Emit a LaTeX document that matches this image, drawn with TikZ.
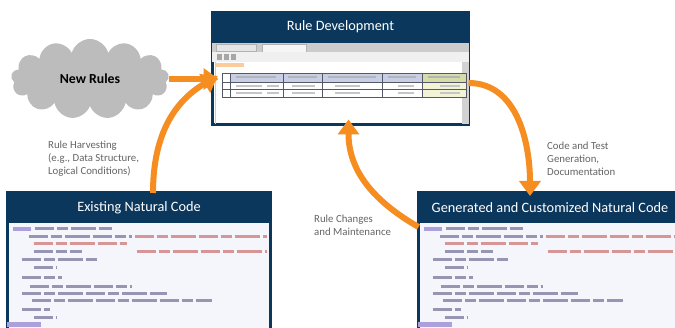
\documentclass[tikz,border=0pt]{standalone}
\usepackage{fontspec}
\setmainfont{Carlito}
\usepackage{xcolor}
\usepackage{tikz}
\usetikzlibrary{shapes,arrows.meta,positioning}

\definecolor{panelblue}{RGB}{12,55,92}
\definecolor{flowor}{RGB}{245,141,32}
\definecolor{notegray}{RGB}{100,100,100}
\definecolor{cloudgray}{RGB}{188,188,188}
\definecolor{codebg}{RGB}{245,246,251}
\definecolor{codeink}{RGB}{150,150,178}
\definecolor{commentink}{RGB}{214,150,150}
\definecolor{keyink}{RGB}{172,160,220}
\definecolor{headfill}{RGB}{200,207,228}
\definecolor{greenhead}{RGB}{214,220,166}
\definecolor{yellowcell}{RGB}{243,244,214}
\definecolor{gridink}{RGB}{85,88,105}

\begin{document}
\begin{tikzpicture}[
  x=1pt, y=1pt,
  title/.style={
    rectangle,
    fill=panelblue,
    draw=panelblue,
    line width=3pt,
    text=white,
    font=\fontsize{14.3}{16}\selectfont,
    minimum height=29pt,
    inner sep=0pt,
    outer sep=0pt
  },
  screen/.style={
    rectangle,
    draw=panelblue,
    line width=3pt,
    fill=white,
    inner sep=0pt,
    outer sep=0pt
  },
  flow/.style={
    draw=flowor,
    line width=6pt,
    -{Triangle[width=21pt,length=15pt]}
  },
  note/.style={
    text=notegray,
    font=\fontsize{10.8}{13}\selectfont,
    align=left,
    inner sep=0pt
  },
  codeline/.style={codeink, line width=3pt, dash pattern=on 19pt off 3pt on 11pt off 3pt on 25pt off 3pt},
  cellline/.style={gridink, line width=0.8pt}
]
\clip (0,0) rectangle (675,327);

% --- NEW RULES (Left Side) ---
\node[cloud, cloud puffs=13, aspect=2, fill=cloudgray, minimum width=158pt, minimum height=80pt,
      font=\fontsize{13.8}{16}\selectfont\bfseries] (new_rules) at (90,248) {New Rules};

% --- RULE DEVELOPMENT (Top) ---
\node[title, minimum width=256pt] (rdev_title) at (340.5,300) {Rule Development};
\node[screen, minimum width=256pt, minimum height=83pt, below=0pt of rdev_title] (rdev_body) {};

% window chrome
\fill[gray!40] (212,283.5) rectangle (468.5,275);
\fill[gray!20, draw=gray!60] (216,283) rectangle (256,276);
\fill[gray!8, draw=gray!60] (262,283) rectangle (306,275);
\fill[gray!12] (212,275) rectangle (468.5,265);
\foreach \ix in {217,224,231}
  \fill[gray!70] (\ix,267) rectangle ++(5,6);
\fill[flowor!45] (216,264) rectangle (244,259.5);
\fill[gray!35] (462,265) rectangle (468.5,202.5);
\draw[gray!40, line width=1pt] (215,265) -- (215,202.5);

% table
\foreach \xa/\xb in {230/283, 283/322, 322/382, 382/422}
  \fill[headfill] (\xa,254) rectangle (\xb,245);
\fill[greenhead] (422,254) rectangle (466,245);
\fill[yellowcell] (422,245) rectangle (466,230);
\foreach \xa/\xb in {236/276, 288/317, 328/376, 388/416, 428/460}
  \draw[gridink!45, line width=2pt] (\xa,249.5) -- (\xb,249.5);
\foreach \xa/\xb in {236/262, 267/279, 292/315, 335/360, 398/414, 440/460}
  \draw[gray!45, line width=1.6pt] (\xa,241.2) -- (\xb,241.2)
                                   (\xa,233.8) -- (\xb,233.8);
\draw[cellline] (222,230) rectangle (466,254);
\foreach \xc in {230,283,322,382,422}
  \draw[cellline] (\xc,230) -- (\xc,254);
\foreach \yc in {245,237.5}
  \draw[cellline] (222,\yc) -- (466,\yc);

% --- EXISTING NATURAL CODE (Bottom Left) ---
\node[title, minimum width=263pt] (exist_title) at (139,119.5) {Existing Natural Code};
\node[screen, fill=codebg, minimum width=263pt, minimum height=130pt, below=0pt of exist_title] (exist_body) {};

% --- GENERATED CODE (Bottom Right) ---
\node[title, minimum width=263pt] (gen_title) at (550,119.5) {Generated and Customized Natural Code};
\node[screen, fill=codebg, minimum width=263pt, minimum height=130pt, below=0pt of gen_title] (gen_body) {};

% code listings
\foreach \p in {exist_body, gen_body} {
  \begin{scope}[shift={(\p.north west)}]
    \fill[keyink] (5,-5) rectangle (23,-9.5);
    \fill[keyink] (-1,-100) rectangle (33,-104.5);
    \foreach \ly/\la/\lb in {7/27/104, 15/21/124, 29/26/74, 37/14/89, 45/26/49, 55/14/54,
                             64/22/124, 71/14/159, 78/24/204, 87/14/42, 95/26/49}
      \draw[codeline] (\la,-\ly) -- (\lb,-\ly);
    \foreach \ly/\la/\lb in {15/127/259, 22/26/119, 29/129/259}
      \draw[codeline, commentink] (\la,-\ly) -- (\lb,-\ly);
  \end{scope}
}

% --- FLOWS ---
\draw[flow, shorten >=-6pt] (new_rules.east) -- (new_rules.east -| rdev_body.west);
\draw[flow, shorten >=-6pt] ([xshift=14pt]exist_title.north) to[out=90, in=210] (new_rules.east -| rdev_body.west);
\draw[flow, shorten >=-3pt] (rdev_body.east) to[out=0, in=90] ([xshift=-20pt]gen_title.north);
\draw[flow, shorten >=-5pt] ([yshift=-5pt]gen_body.north west) to[out=150, in=-90] ([xshift=8pt]rdev_body.south);

% --- LABELS ---
\node[note, anchor=west] (harvest_note) at (48,168) {Rule Harvesting\\(e.g., Data Structure,\\Logical Conditions)};
\node[note, anchor=west] (codegen_note) at (547,168) {Code and Test\\Generation,\\Documentation};
\node[note, anchor=west] (change_note) at (314,102) {Rule Changes\\and Maintenance};

\end{tikzpicture}
\end{document}
